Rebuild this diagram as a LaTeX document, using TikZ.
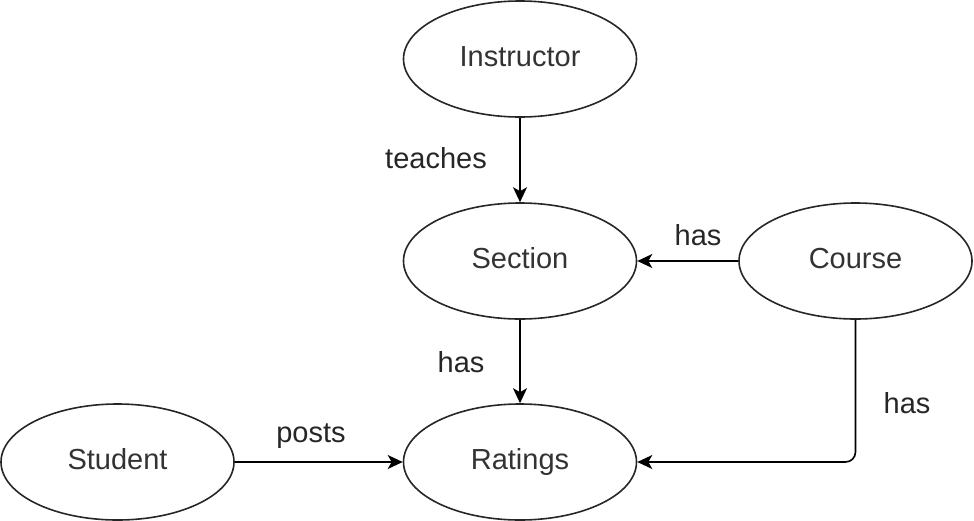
\documentclass[tikz,border=0pt]{standalone}
\usepackage{fontspec}
\setmainfont{Liberation Sans}
\usetikzlibrary{arrows.meta,shapes.geometric}
\begin{document}
\begin{tikzpicture}[x=1pt,y=-1pt,
  ent/.style={draw=black!85,line width=1.6pt,ellipse,minimum width=233pt,minimum height=116pt,inner sep=0pt,text height=21pt,text depth=6pt,text=black!80,font=\fontsize{29}{32}\selectfont},
  lbl/.style={text=black!85,font=\fontsize{29}{32}\selectfont,inner sep=0pt},
  conn/.style={draw=black,line width=1.6pt,-{Stealth[length=15pt,width=14pt,inset=4pt]}}]
\useasboundingbox (0,0) rectangle (974,520);
\node[ent] (instr) at (520,59) {Instructor};
\node[ent] (sect) at (520,261) {Section};
\node[ent] (course) at (855.5,261) {Course};
\node[ent] (rat) at (520,462) {Ratings};
\node[ent] (stud) at (117.5,462) {Student};
\draw[conn] (instr) -- (sect);
\draw[conn] (course) -- (sect);
\draw[conn] (sect) -- (rat);
\draw[conn] (stud) -- (rat);
\draw[conn,rounded corners=10pt] (course.south) |- (rat.east);
\node[lbl] (t1) at (436,158) {teaches};
\node[lbl] (t2) at (698,235) {has};
\node[lbl] (t3) at (461,362) {has};
\node[lbl] (t4) at (907,403) {has};
\node[lbl] (t5) at (311,436) {posts};
\end{tikzpicture}
\end{document}
